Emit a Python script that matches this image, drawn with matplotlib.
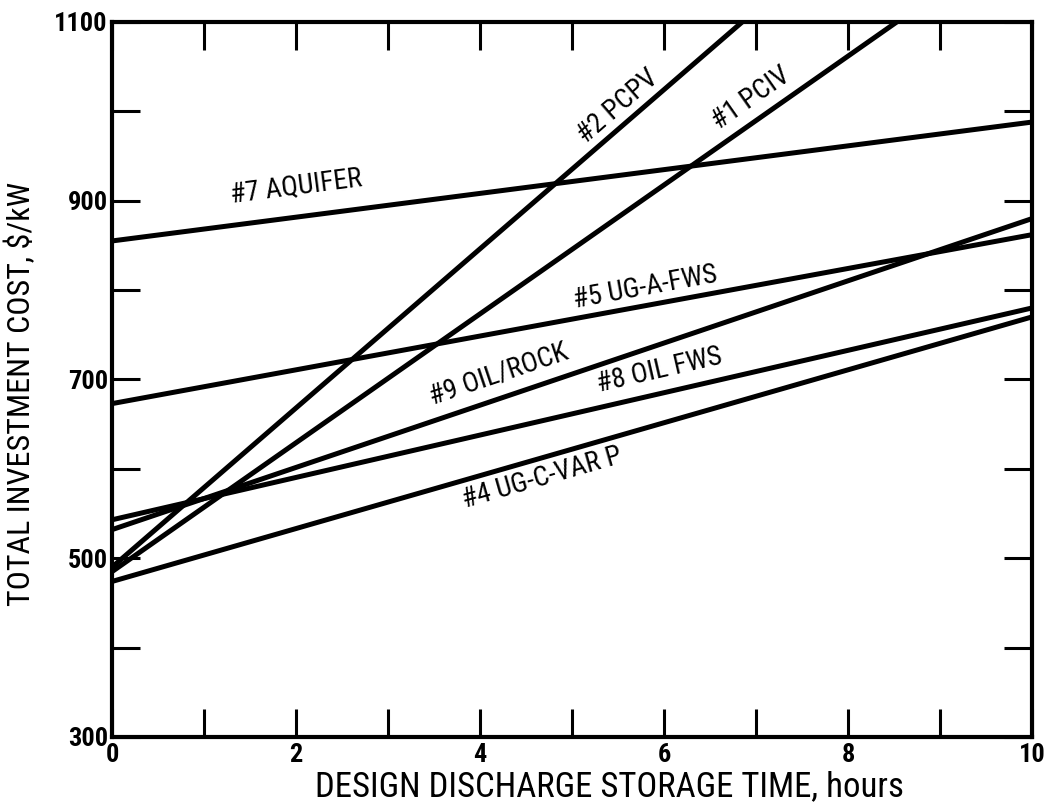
import matplotlib
matplotlib.use('Agg')
import matplotlib.pyplot as plt
from matplotlib.ticker import MultipleLocator
import numpy as np

plt.rcParams['font.family'] = ['Roboto Condensed', 'DejaVu Sans']
plt.rcParams['font.stretch'] = 'condensed'

# cost lines, $/kW at 0 hours and at the end point
names = ['#7 AQUIFER', '#2 PCPV', '#1 PCIV', '#5 UG-A-FWS',
         '#9 OIL/ROCK', '#8 OIL FWS', '#4 UG-C-VAR P']
x_start = [0, 0, 0, 0, 0, 0, 0]
y_start = [855, 490, 485, 673, 532, 543, 474]
x_end = [10, 6.85, 8.53, 10, 10, 10, 10]
y_end = [988, 1100, 1100, 862, 880, 780, 770]

# where each name sits (hours, $/kW)
label_x = [2.0, 5.5, 6.95, 5.8, 4.2, 5.95, 4.68]
label_y = [915, 1005, 1015, 803, 706, 710, 590]

y_ticks = [300, 500, 700, 900, 1100]

fig = plt.figure(figsize=(10.49, 8.05), dpi=100)
ax = fig.add_axes([0.1068, 0.0845, 0.8770, 0.8882])

for i in range(len(names)):
    ax.plot([x_start[i], x_end[i]], [y_start[i], y_end[i]], color='black',
            lw=3.6, solid_capstyle='butt')

ax.set_xlim(0, 10)
ax.set_ylim(300, 1100)

for i in range(len(names)):
    slope = (y_end[i] - y_start[i]) / (x_end[i] - x_start[i])
    ang = ax.transData.transform_angles(np.array([np.degrees(np.arctan(slope))]),
                                        np.array([[label_x[i], label_y[i]]]))[0]
    ax.text(label_x[i], label_y[i], names[i], rotation=ang, rotation_mode='anchor',
            ha='center', va='center', fontsize=20)

ax.xaxis.set_major_locator(MultipleLocator(2))
ax.xaxis.set_minor_locator(MultipleLocator(1))
ax.set_yticks(y_ticks)
ax.yaxis.set_minor_locator(MultipleLocator(100))
ax.tick_params(which='both', direction='in', top=True, right=True,
               length=20, width=2.2, labelsize=19, pad=4)
ax.tick_params(axis='y', pad=3)
for s in ax.spines.values():
    s.set_linewidth(3)
for t in ax.get_xticklabels() + ax.get_yticklabels():
    t.set_fontweight('bold')

ax.set_xlabel('DESIGN DISCHARGE STORAGE TIME, hours', fontsize=25)
ax.xaxis.set_label_coords(0.541, -0.046)
ax.set_ylabel('TOTAL INVESTMENT COST, $/kW', fontsize=23)
ax.yaxis.set_label_coords(-0.082, 0.48)

fig.savefig('out.png', dpi=100)
